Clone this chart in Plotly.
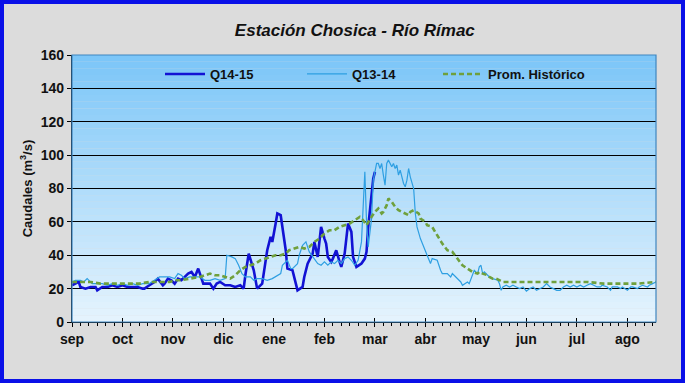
import plotly.graph_objects as go

# ---------------- data ----------------
meses = ["sep", "oct", "nov", "dic", "ene", "feb", "mar", "abr", "may", "jun", "jul", "ago"]
mes_inicio = [0, 30, 60, 90, 120, 150, 180, 210, 240, 270, 300, 330]

dias_q1415 = [0, 2, 4, 5, 8, 11, 14, 15, 18, 21, 24, 27, 30, 33, 36, 39, 42, 43, 46, 49,
              51, 54, 55, 57, 59, 61, 63, 65, 67, 69, 71, 73, 75, 76, 78, 80, 82, 84, 86, 88,
              91, 94, 97, 100, 102, 103, 105, 108, 110, 113, 116, 118, 119, 121, 122, 124, 125, 127, 128, 131,
              133, 134, 137, 138, 140, 143, 144, 146, 147, 148, 150, 151, 152, 154, 155, 157, 159, 160, 162, 164,
              166, 167, 169, 172, 174, 175, 176, 178, 179, 180]
q1415 = [22, 23, 24, 21, 20, 21, 21, 19, 21, 21, 22, 21, 22, 21, 21, 21, 20, 20, 22, 24,
         26, 22, 23, 26, 25, 23, 26, 25, 27, 29, 30, 27, 32, 29, 23, 23, 23, 20, 23, 24,
         22, 22, 21, 22, 20, 28, 41, 31, 20, 23, 43, 51, 48, 59, 65, 64, 57, 43, 32, 31,
         23, 19, 21, 27, 35, 41, 48, 39, 48, 57, 50, 47, 39, 36, 38, 43, 36, 33, 41, 59,
         54, 39, 33, 35, 38, 42, 57, 75, 86, 90]

dias_q1314 = [0, 2, 5, 7, 9, 12, 15, 18, 21, 24, 27, 30, 33, 36, 39, 42, 45, 46, 49, 52,
              55, 58, 61, 63, 65, 67, 70, 73, 76, 79, 82, 85, 88, 91, 92, 95, 97, 99, 101, 103,
              106, 108, 110, 113, 116, 119, 122, 124, 125, 128, 130, 131, 134, 135, 137, 139, 141, 143, 144, 146,
              148, 150, 152, 154, 156, 158, 160, 162, 164, 166, 168, 170, 172, 173, 174, 175, 176, 178, 179, 181,
              182, 183, 184, 185, 186, 187, 188, 190, 191, 192, 193, 194, 195, 197, 198, 199, 200, 201, 203, 204,
              205, 207, 209, 210, 213, 214, 217, 219, 220, 223, 225, 226, 229, 231, 232, 235, 236, 238, 239, 241,
              242, 243, 244, 245, 247, 248, 250, 253, 254, 255, 256, 258, 260, 262, 264, 266, 268, 270, 272, 274,
              276, 278, 280, 282, 284, 286, 288, 290, 292, 294, 296, 298, 300, 302, 304, 306, 308, 310, 312, 314,
              315, 318, 320, 321, 324, 326, 327, 330, 332, 333, 336, 337, 339, 342, 343, 345, 347]
q1314 = [24, 25, 25, 24, 26, 23, 23, 23, 22, 23, 22, 23, 22, 23, 22, 23, 23, 23, 25, 27,
         27, 27, 26, 29, 28, 26, 27, 27, 27, 25, 25, 26, 25, 26, 40, 39, 38, 34, 29, 27,
         27, 25, 26, 26, 25, 26, 28, 29, 34, 37, 32, 32, 35, 40, 46, 48, 42, 39, 38, 35,
         34, 36, 34, 36, 35, 37, 35, 38, 39, 37, 34, 37, 48, 73, 90, 60, 45, 62, 85, 95,
         95, 92, 95, 88, 82, 95, 97, 93, 95, 92, 94, 88, 91, 83, 81, 85, 92, 87, 80, 65,
         57, 50, 45, 42, 35, 38, 37, 31, 29, 29, 27, 29, 26, 24, 22, 24, 23, 28, 31, 29,
         33, 34, 29, 30, 28, 27, 26, 25, 23, 19, 21, 22, 21, 22, 21, 20, 21, 18.5, 20, 21,
         19, 20, 21, 23, 21, 20, 19, 19, 21, 22, 21, 22, 21, 22, 21, 22, 23, 22, 21, 21,
         22, 21, 19, 21, 21, 20, 21, 19, 21, 21, 20, 21, 22, 21, 22, 23, 24]

dias_prom = [0, 5, 11, 17, 23, 29, 34, 40, 46, 52, 58, 61, 64, 70, 76, 82, 85, 88, 91, 94,
             97, 100, 103, 106, 109, 112, 115, 118, 121, 124, 127, 129, 132, 135, 138, 141, 144, 147, 150, 153,
             156, 159, 162, 165, 168, 171, 173, 175, 178, 180, 182, 184, 185, 187, 188, 190, 192, 194, 196, 198,
             200, 201, 203, 206, 207, 210, 211, 214, 217, 220, 223, 226, 229, 232, 235, 238, 241, 242, 244, 247,
             248, 250, 252, 254, 256, 266, 276, 286, 296, 306, 316, 326, 336, 347]
prom = [24, 24, 24, 23, 23, 23, 23, 23, 24, 24, 24, 25, 25, 26, 27, 29, 28, 28, 27, 26,
        28, 31, 33, 34, 35, 37, 38, 39, 40, 40, 41, 43, 44, 45, 44, 45, 48, 50, 53, 55,
        55, 57, 58, 59, 61, 63, 61, 58, 63, 66, 68, 65, 66, 70, 74, 72, 69, 67, 66, 65,
        64, 66, 67, 65, 62, 60, 58, 57, 52, 47, 43, 42, 38, 34, 32, 30, 29, 30, 29, 28,
        27, 26, 26, 25, 24, 24, 24, 24, 24, 24, 23, 23, 23, 24]

y_ticks = [0, 20, 40, 60, 80, 100, 120, 140, 160]

# ---------------- figure ----------------
W, H = 685, 383
ML, MR, MT, MB = 72, 29, 55, 61
PW, PH = W - ML - MR, H - MT - MB

FONT = "Liberation Sans Narrow, Arial Narrow, Liberation Sans, Arial, sans-serif"

fig = go.Figure()

fig.add_trace(go.Scatter(x=dias_q1415, y=q1415, name="Q14-15", mode="lines", legend="legend",
                         line=dict(color="#1212d4", width=2.6)))
fig.add_trace(go.Scatter(x=dias_q1314, y=q1314, name="Q13-14", mode="lines", legend="legend2",
                         line=dict(color="#2e9fe2", width=1.2)))
fig.add_trace(go.Scatter(x=dias_prom, y=prom, name="Prom. Histórico", mode="lines", legend="legend3",
                         line=dict(color="#6fa03c", width=2.6, dash="5px,3px")))
# invisible trace for second (inside-tick) x axis
fig.add_trace(go.Scatter(x=[mes_inicio[0]], y=[0], xaxis="x2", showlegend=False,
                         mode="markers", marker=dict(opacity=0), hoverinfo="skip"))

shapes = []
# vertical gradient background for the plot area (bands)
n = 40
top = (124, 198, 248)
bot = (228, 243, 253)
for i in range(n):
    t = i / (n - 1)
    c = tuple(int(round(bot[k] + (top[k] - bot[k]) * t)) for k in range(3))
    shapes.append(dict(type="rect", xref="paper", yref="paper",
                       x0=0, x1=1, y0=i / n, y1=(i + 1) / n,
                       fillcolor="rgb(%d,%d,%d)" % c, line=dict(width=0), layer="below"))
# plot area frame
shapes.append(dict(type="rect", xref="paper", yref="paper", x0=0, x1=1, y0=0, y1=1,
                   line=dict(color="#3f86c0", width=1.2), layer="above"))
# outer blue border of the figure
bw = 4
shapes.append(dict(type="rect", xref="paper", yref="paper",
                   x0=(-ML + bw / 2) / PW, x1=(W - ML - bw / 2) / PW,
                   y0=(-MB + bw / 2) / PH, y1=1 + (MT - bw / 2) / PH,
                   line=dict(color="#0a10e8", width=bw), layer="above"))

leg_y = (H - MB - 74) / PH
def leg(xpix):
    return dict(orientation="h", x=(xpix - ML) / PW, xanchor="left", y=leg_y, yanchor="middle",
                bgcolor="rgba(0,0,0,0)", font=dict(family=FONT, size=13, weight="bold"),
                itemwidth=40)

fig.update_layout(
    width=W, height=H,
    margin=dict(l=ML, r=MR, t=MT, b=MB, pad=0),
    paper_bgcolor="#dcdcdc",
    plot_bgcolor="rgba(0,0,0,0)",
    font=dict(family=FONT, color="#111111", size=13),
    title=dict(text="Estación Chosica - Río Rímac", x=0.518, xanchor="center",
               y=1 - 30 / H, yanchor="middle",
               font=dict(family=FONT, size=17, weight="bold", style="italic", color="#111111")),
    showlegend=True,
    legend=leg(160),
    legend2=leg(302),
    legend3=leg(438),
    xaxis=dict(range=[0, 347], tickvals=mes_inicio, ticktext=meses, ticks="outside",
               ticklen=4, tickwidth=1, tickcolor="#000000", showgrid=False, zeroline=False,
               showline=True, linecolor="#000000", linewidth=1.2,
               tickfont=dict(family=FONT, size=14, weight="bold"),
               minor=dict(dtick=5, tick0=0, ticks="outside", ticklen=3, tickcolor="#000000",
                          showgrid=False)),
    xaxis2=dict(range=[0, 347], overlaying="x", side="bottom", anchor="y",
                tickvals=mes_inicio, ticks="inside", ticklen=4, tickwidth=1,
                tickcolor="#000000", showticklabels=False, showgrid=False, zeroline=False,
                showline=False),
    yaxis=dict(range=[0, 160], tickvals=y_ticks, ticks="outside", ticklen=4,
               tickcolor="#000000", showgrid=True, gridcolor="#000000", gridwidth=1,
               zeroline=False, showline=True, linecolor="#000000", linewidth=1.2,
               tickfont=dict(family=FONT, size=14, weight="bold"),
               title=dict(text="Caudales (m<sup>3</sup>/s)", standoff=5,
                          font=dict(family=FONT, size=13, weight="bold"))),
    shapes=shapes,
)

fig.write_html("out.html", config={"displayModeBar": False},
               post_script="document.body.style.margin='0';document.body.style.overflow='hidden';")
